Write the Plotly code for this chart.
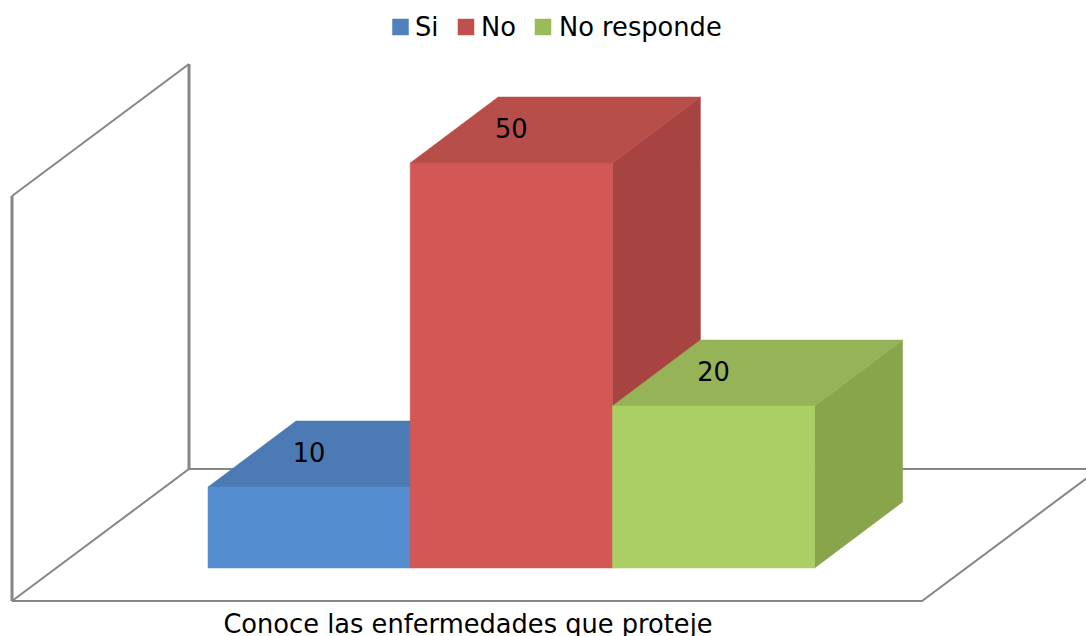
import plotly.graph_objects as go

# Chart data
series_names = ["Si", "No", "No responde"]
series_values = [10, 50, 20]
category_label = "Conoce las enfermedades que proteje"
axis_max = 50

# Colours per series
legend_colors = ["#4F81BD", "#C0504D", "#9BBB59"]
front_colors = ["#558ED0", "#D35754", "#ABCF64"]
top_colors = ["#4C7AB4", "#B84E4A", "#96B357"]
side_colors = ["#44699A", "#A74340", "#88A54B"]
frame_color = "#868686"
font_family = "DejaVu Sans"
font_size = 25.7

# Oblique projection: depth is a shift expressed in axis units
W, H = 1086, 636
MARGIN_BOTTOM = 30
PX_PER_BAR = 202.2
PX_PER_UNIT = 8.1
BAR_LEFT_PX, BASE_PX = 208, 568
DEPTH_X = 88 / PX_PER_BAR
DEPTH_Y = 66 / PX_PER_UNIT

# Front-left corner of the floor relative to the first bar's base
FLOOR_X0 = (12 - BAR_LEFT_PX) / PX_PER_BAR
FLOOR_Y0 = (BASE_PX - 601) / PX_PER_UNIT
FLOOR_X1 = (922 - BAR_LEFT_PX) / PX_PER_BAR
WALL_DX = 177 / PX_PER_BAR
WALL_DY = 132 / PX_PER_UNIT
LABEL_X = (468 - BAR_LEFT_PX) / PX_PER_BAR

# Key row along the top: swatch centre, text start and vertical centre in pixels
KEY_SWATCH_PX = [400.5, 466, 543]
KEY_TEXT_PX = [415, 481, 559]
KEY_Y_PX = 27


def px_x(px):
    return (px - BAR_LEFT_PX) / PX_PER_BAR


def px_y(px):
    return (BASE_PX - px) / PX_PER_UNIT


def frame_line(xs, ys, width):
    return go.Scatter(x=xs, y=ys, mode="lines", showlegend=False, hoverinfo="skip",
                      line=dict(color=frame_color, width=width))


def face(xs, ys, color):
    return go.Scatter(x=xs, y=ys, mode="lines", fill="toself", fillcolor=color,
                      line=dict(color=color, width=0.5), showlegend=False, hoverinfo="skip")


fig = go.Figure()

# Back wall and floor outlines
back_x, back_y = FLOOR_X0 + WALL_DX, FLOOR_Y0 + WALL_DY
fig.add_trace(frame_line([FLOOR_X0, FLOOR_X0], [FLOOR_Y0, FLOOR_Y0 + axis_max], 3))
fig.add_trace(frame_line([back_x, back_x], [back_y, back_y + axis_max], 3))
fig.add_trace(frame_line([FLOOR_X0, back_x], [FLOOR_Y0 + axis_max, back_y + axis_max], 2))
fig.add_trace(frame_line([FLOOR_X0, back_x, FLOOR_X1 + WALL_DX],
                         [FLOOR_Y0, back_y, back_y], 2))
fig.add_trace(frame_line([FLOOR_X0, FLOOR_X1, FLOOR_X1 + WALL_DX],
                         [FLOOR_Y0, FLOOR_Y0, back_y], 2))

# Bars, drawn left to right so each one overlaps the previous side face
for i, value in enumerate(series_values):
    l, r = i, i + 1
    fig.add_trace(face([r, r + DEPTH_X, r + DEPTH_X, r, r],
                       [0, DEPTH_Y, value + DEPTH_Y, value, 0], side_colors[i]))
    fig.add_trace(face([l, r, r + DEPTH_X, l + DEPTH_X, l],
                       [value, value, value + DEPTH_Y, value + DEPTH_Y, value], top_colors[i]))
    fig.add_trace(face([l, r, r, l, l], [0, 0, value, value, 0], front_colors[i]))

# Value labels on the top faces
fig.add_trace(go.Scatter(
    x=[i + 0.5 for i in range(len(series_values))],
    y=[v + DEPTH_Y / 2 - 0.15 for v in series_values],
    mode="text", text=[str(v) for v in series_values], textposition="middle center",
    textfont=dict(family=font_family, size=font_size, color="#000000"),
    showlegend=False, hoverinfo="skip"))

# Key row: square swatches with tight text spacing
key_y = px_y(KEY_Y_PX)
for name, color, swatch_px, text_px in zip(series_names, legend_colors, KEY_SWATCH_PX, KEY_TEXT_PX):
    fig.add_trace(go.Scatter(x=[px_x(swatch_px)], y=[key_y], mode="markers", name=name,
                             showlegend=False, hoverinfo="name",
                             marker=dict(symbol="square", size=16.5, color=color)))
    fig.add_annotation(x=px_x(text_px), y=key_y, text=name, showarrow=False,
                       xanchor="left", yanchor="middle", xshift=0,
                       borderpad=0, borderwidth=0,
                       font=dict(family=font_family, size=font_size, color="#000000"))

plot_h = H - MARGIN_BOTTOM
fig.update_layout(
    width=W, height=H, autosize=False,
    margin=dict(l=0, r=0, t=0, b=MARGIN_BOTTOM),
    paper_bgcolor="#FFFFFF", plot_bgcolor="#FFFFFF",
    font=dict(family=font_family, size=font_size, color="#000000"),
    showlegend=False,
    xaxis=dict(range=[-BAR_LEFT_PX / PX_PER_BAR, (W - BAR_LEFT_PX) / PX_PER_BAR],
               tickmode="array", tickvals=[LABEL_X], ticktext=[category_label],
               showgrid=False, zeroline=False, showline=False, ticks="",
               tickfont=dict(family=font_family, size=font_size), automargin=False),
    yaxis=dict(range=[(BASE_PX - plot_h) / PX_PER_UNIT, BASE_PX / PX_PER_UNIT],
               visible=False, showgrid=False, zeroline=False),
)

fig.write_html("out.html")
